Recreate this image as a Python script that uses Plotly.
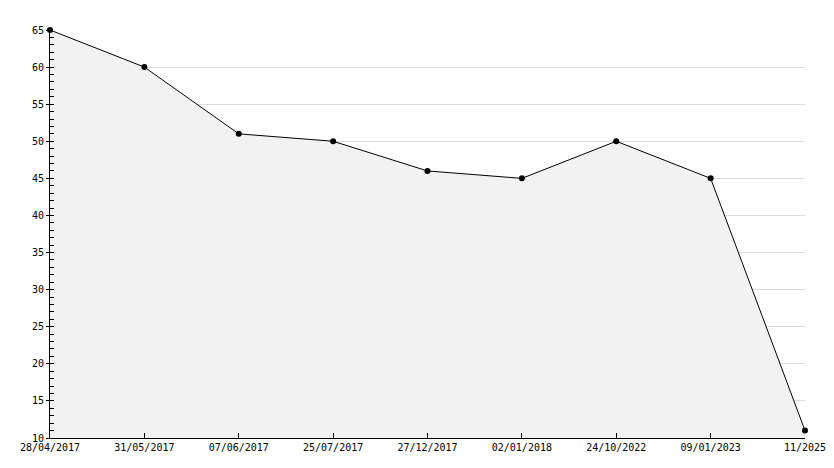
import plotly.graph_objects as go

dates = ["28/04/2017", "31/05/2017", "07/06/2017", "25/07/2017", "27/12/2017",
         "02/01/2018", "24/10/2022", "09/01/2023", "11/2025"]
values = [65, 60, 51, 50, 46, 45, 50, 45, 11]
y_ticks = [10, 15, 20, 25, 30, 35, 40, 45, 50, 55, 60, 65]

idx = list(range(len(dates)))
font = dict(family="DejaVu Sans Mono", size=10, color="black")

fig = go.Figure()
fig.add_trace(go.Scatter(
    x=idx, y=values, mode="lines+markers",
    line=dict(color="black", width=1),
    marker=dict(color="black", size=6, symbol="circle"),
    fill="tozeroy", fillcolor="#f2f2f2", cliponaxis=False,
    hoverinfo="skip", showlegend=False,
))
fig.add_trace(go.Scatter(x=[idx[0]], y=[values[0]], yaxis="y2", mode="markers",
                         marker=dict(opacity=0), showlegend=False, hoverinfo="skip"))

fig.update_layout(
    width=834, height=468,
    margin=dict(l=42, r=37, t=22, b=38, autoexpand=False),
    paper_bgcolor="white", plot_bgcolor="white",
    font=font,
    xaxis=dict(
        range=[0, len(dates) - 1], tickvals=idx, ticktext=dates,
        showgrid=False, zeroline=False, automargin=False,
        showline=True, linecolor="black", linewidth=1,
        ticks="inside", ticklen=5, tickcolor="black", tickwidth=1,
        tickfont=font,
    ),
    yaxis=dict(
        range=[10, 65], tickvals=y_ticks, automargin=False,
        showgrid=True, gridcolor="#dcdcdc", gridwidth=1, zeroline=False,
        showline=True, linecolor="black", linewidth=1,
        ticks="outside", ticklen=3, tickcolor="black",
        tickfont=font,
    ),
    yaxis2=dict(
        range=[10, 65], overlaying="y", side="left", dtick=1, tick0=10,
        showticklabels=False, showgrid=False, zeroline=False, automargin=False,
        ticks="inside", ticklen=4, tickcolor="black", showline=False,
    ),
)
fig.write_html("out.html")
